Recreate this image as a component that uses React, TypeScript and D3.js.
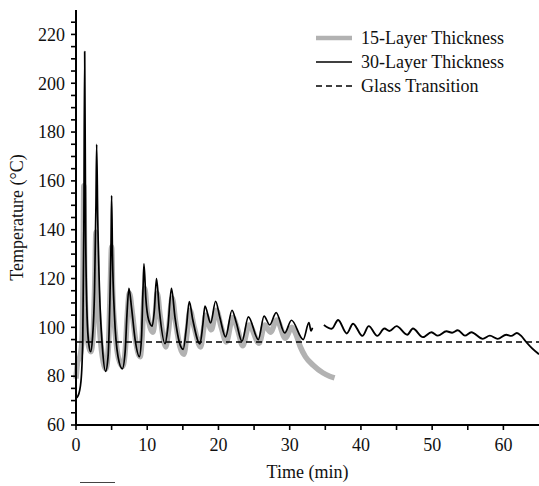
import React from "react";
import * as d3 from "d3";

// ---- data (time in min, temperature in °C) ----
const thirtyLayerPart1: [number, number][] = [
  [0, 71], [0.3, 72], [0.7, 78], [0.95, 95], [1.1, 140], [1.22, 213], [1.35, 140], [1.55, 105],
  [1.8, 93], [2.06, 90], [2.3, 95], [2.6, 115], [2.8, 150], [2.9, 175], [3.05, 145], [3.3, 115],
  [3.7, 92], [4.16, 82], [4.5, 88], [4.75, 110], [4.92, 135], [5.0, 154], [5.12, 130], [5.4, 105],
  [5.9, 88], [6.5, 83], [6.9, 90], [7.15, 105], [7.43, 116], [7.8, 108], [8.3, 95], [8.9, 88],
  [9.2, 96], [9.4, 115], [9.54, 126], [9.8, 112], [10.2, 103], [10.7, 100.5], [11.0, 107],
  [11.3, 120], [11.7, 107], [12.5, 93.3], [12.9, 100], [13.4, 116], [13.9, 104], [14.5, 94],
  [15.05, 91], [15.5, 100], [15.9, 110.5], [16.4, 103], [17.4, 93.2], [17.8, 101], [18.1, 108.7],
  [18.9, 101.8], [19.6, 110.7], [20.2, 104], [21.0, 96.1], [21.9, 107], [22.5, 102], [23.3, 94.3],
  [24.2, 104.3], [25.6, 95], [26.4, 104.6], [27.2, 101], [28.1, 106], [29.3, 97.7], [30.25, 102.9],
  [31.9, 95], [32.7, 101.9], [33.0, 98.5], [33.2, 99.8],
];

const thirtyLayerPart2: [number, number][] = [
  [34.8, 101], [35.9, 99.4], [36.8, 103], [38.0, 97.5], [38.9, 101.5], [40.2, 96.5], [41.1, 100.5],
  [42.3, 96.5], [43.3, 99.5], [44.0, 98.5], [45.0, 100.5], [46.5, 97], [47.3, 99.5], [48.7, 96],
  [49.9, 98], [50.8, 96.6], [52.0, 98.4], [52.8, 97.8], [53.6, 98.8], [54.6, 96.6], [55.5, 98],
  [57.1, 95.3], [58.1, 96.6], [59.2, 95.3], [60.4, 97], [61.1, 96.5], [61.9, 97.7], [62.5, 96.5],
  [63.2, 94], [64.0, 91.5], [65, 89],
];

const fifteenLayer: [number, number][] = [
  [0, 79], [0.25, 86], [0.55, 88], [0.85, 95], [1.0, 125], [1.1, 158], [1.22, 125], [1.45, 100],
  [1.8, 92], [2.1, 90], [2.4, 97], [2.65, 120], [2.8, 139], [2.95, 120], [3.3, 100], [3.7, 88],
  [4.2, 83], [4.55, 92], [4.8, 115], [5.0, 133], [5.15, 115], [5.5, 98], [6.0, 87], [6.55, 84],
  [6.95, 92], [7.2, 105], [7.5, 114], [7.9, 106], [8.4, 94], [9.0, 88], [9.3, 97], [9.5, 110],
  [9.65, 116], [10.0, 106], [10.4, 100], [10.8, 98], [11.1, 104], [11.4, 114], [11.8, 105],
  [12.6, 92], [13.0, 99], [13.5, 112], [14.0, 102], [14.6, 92], [15.15, 89], [15.6, 98],
  [16.0, 107], [16.6, 100], [17.5, 92], [17.9, 99], [18.2, 105], [19.0, 99], [19.7, 107],
  [20.4, 100], [21.1, 94], [22.0, 104], [22.7, 99], [23.4, 92.5], [24.3, 101], [25.7, 93.5],
  [26.5, 101], [27.3, 98], [28.2, 103], [29.4, 95.5], [30.3, 100], [30.9, 97], [31.5, 92],
  [32.2, 88], [33.3, 84.5], [34.7, 81.3], [35.6, 80], [36.3, 79.3],
];

const glassTransition = 94;

const xMajorTicks = [0, 10, 20, 30, 40, 50, 60];
const xMinorTicks = [5, 15, 25, 35, 45, 55];
const yMajorTicks = [60, 80, 100, 120, 140, 160, 180, 200, 220];
const yMinorTicks = [65, 70, 75, 85, 90, 95, 105, 110, 115, 125, 130, 135, 145, 150, 155, 165, 170, 175, 185, 190, 195, 205, 210, 215, 225];

const legendItems = [
  { label: "15-Layer Thickness", kind: "gray" },
  { label: "30-Layer Thickness", kind: "black" },
  { label: "Glass Transition", kind: "dash" },
];

const W = 539;
const H = 486;
const left = 76;
const right = 539;
const top = 10;
const bottom = 425;
const FONT = "'Liberation Serif', 'Times New Roman', serif";
const GRAY = "#b2b2b2";

export default function App() {
  const x = d3.scaleLinear().domain([0, 65]).range([left, right]);
  const y = d3.scaleLinear().domain([60, 230]).range([bottom, top]);
  const line = d3
    .line<[number, number]>()
    .x((d) => x(d[0]))
    .y((d) => y(d[1]))
    .curve(d3.curveMonotoneX);

  return (
    <svg
      width={W}
      height={H}
      style={{ position: "absolute", left: 0, top: 0, background: "#fff" }}
      fontFamily={FONT}
    >
      <rect width={W} height={H} fill="#fff" />
      {/* series */}
      <path d={line(fifteenLayer) || ""} fill="none" stroke={GRAY} strokeWidth={5.5} strokeLinejoin="round" strokeLinecap="butt" />
      <path d={line(thirtyLayerPart1) || ""} fill="none" stroke="#000" strokeWidth={1.7} strokeLinejoin="round" />
      <path d={line(thirtyLayerPart2) || ""} fill="none" stroke="#000" strokeWidth={1.9} strokeLinejoin="round" />
      <line
        x1={x(0)}
        x2={x(65)}
        y1={y(glassTransition)}
        y2={y(glassTransition)}
        stroke="#000"
        strokeWidth={1.3}
        strokeDasharray="6,4"
      />

      {/* y axis */}
      <line x1={left} x2={left} y1={top} y2={bottom + 1} stroke="#000" strokeWidth={2} />
      {yMajorTicks.concat(yMinorTicks).map((v) => (
        <line key={"yt" + v} x1={left - 5} x2={left} y1={y(v)} y2={y(v)} stroke="#000" strokeWidth={1.6} />
      ))}
      {yMajorTicks.map((v) => (
        <text key={"yl" + v} x={left - 11} y={y(v)} dy="0.35em" textAnchor="end" fontSize={18} fill="#111">
          {v}
        </text>
      ))}

      {/* x axis */}
      <line x1={left - 1} x2={right} y1={bottom} y2={bottom} stroke="#000" strokeWidth={2} />
      {xMajorTicks.concat(xMinorTicks).map((v) => (
        <line key={"xt" + v} x1={x(v)} x2={x(v)} y1={bottom} y2={bottom + 5} stroke="#000" strokeWidth={1.6} />
      ))}
      {xMajorTicks.map((v) => (
        <text key={"xl" + v} x={x(v)} y={bottom + 26} textAnchor="middle" fontSize={18} fill="#111">
          {v}
        </text>
      ))}

      {/* axis titles */}
      <text x={(left + right) / 2} y={478} textAnchor="middle" fontSize={18} fill="#111">
        Time (min)
      </text>
      <text
        transform={`translate(23, ${(top + bottom) / 2}) rotate(-90)`}
        textAnchor="middle"
        fontSize={18}
        fill="#111"
      >
        Temperature (°C)
      </text>

      {/* legend */}
      {legendItems.map((it, i) => {
        const ly = 38 + i * 24;
        return (
          <g key={it.label}>
            <line
              x1={316}
              x2={352}
              y1={ly}
              y2={ly}
              stroke={it.kind === "gray" ? GRAY : "#000"}
              strokeWidth={it.kind === "gray" ? 4.5 : it.kind === "black" ? 1.7 : 1.3}
              strokeDasharray={it.kind === "dash" ? "6,4" : undefined}
            />
            <text x={361} y={ly} dy="0.33em" fontSize={18} fill="#111">
              {it.label}
            </text>
          </g>
        );
      })}

      {/* stray mark at bottom-left of the original figure */}
      <line x1={80} x2={115} y1={482.5} y2={482.5} stroke="#444" strokeWidth={1} />
    </svg>
  );
}
